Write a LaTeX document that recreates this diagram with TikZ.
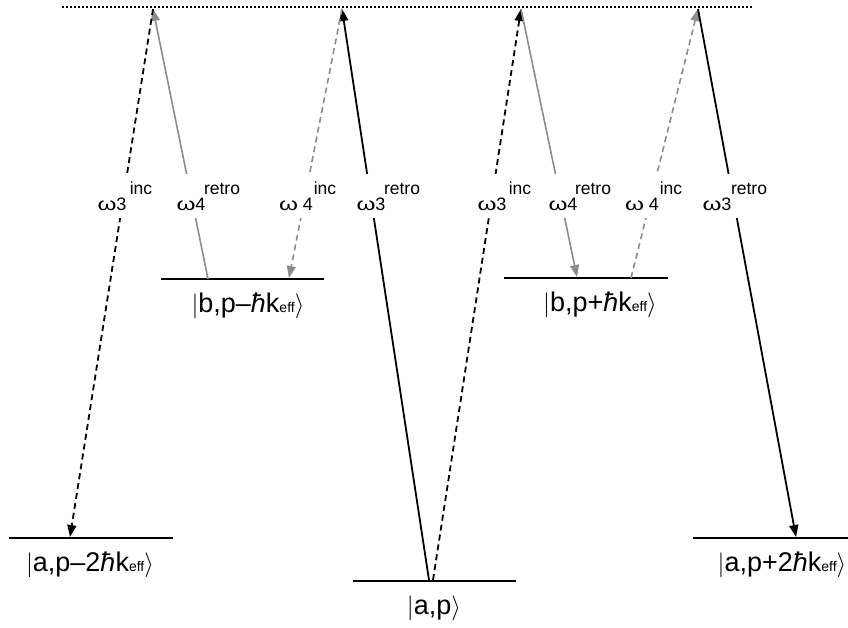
\documentclass[tikz,border=0pt]{standalone}
\usepackage{fontspec}
\usepackage{graphicx}
\setmainfont{Liberation Sans}
\usetikzlibrary{arrows.meta}
\newcommand{\myket}[1]{$\left|\vphantom{\rule[-7pt]{0pt}{26pt}}\mbox{#1}\right\rangle$}
\newcommand{\effsub}{{\fontsize{14}{14}\selectfont eff}}
\newcommand{\hb}{{\itshape ħ}}
\newcommand{\om}{\scalebox{1.35}[1]{ω}}
\begin{document}
\begin{tikzpicture}[x=1pt,y=-1pt,
  levelline/.style={line width=2.4pt, black},
  blk/.style={line width=1.8pt, black, -{Triangle[length=12pt,width=9pt]}},
  gry/.style={line width=1.6pt, gray!90, -{Triangle[length=12pt,width=9pt]}},
  dsh/.style={dash pattern=on 6pt off 4pt},
  ketlab/.style={font=\fontsize{27}{27}\selectfont, inner sep=0pt, anchor=base},
  omg/.style={font=\fontsize{18}{18}\selectfont, inner sep=0pt, anchor=base},
  suplab/.style={font=\fontsize{17.5}{17.5}\selectfont, inner sep=0pt, anchor=base}]
\useasboundingbox (0,0) rectangle (848,627);
% virtual level
\draw[line width=1.8pt, dash pattern=on 1.8pt off 2.2pt] (62,7) -- (753,7);
% levels
\draw[levelline] (9,538) -- (173,538);
\draw[levelline] (353,581) -- (516,581);
\draw[levelline] (693,538) -- (848,538);
\draw[levelline] (161,279) -- (324,279);
\draw[levelline] (504,278) -- (668,278);
% peaks
\coordinate (pA) at (153,9);
\coordinate (pB) at (342,9);
\coordinate (pC) at (521,9);
\coordinate (pD) at (698,9);
% end points on levels
\coordinate (am2) at (70,537);
\coordinate (bm1a) at (208,279);
\coordinate (bm1b) at (289,278);
\coordinate (a0a) at (429,580);
\coordinate (a0b) at (433,580);
\coordinate (bp1a) at (577,277);
\coordinate (bp1b) at (631,278);
\coordinate (ap2) at (796,537);
% transitions
\draw[gry] (bm1a) -- (pA);
\draw[blk, dsh] (pA) -- (am2);
\draw[blk] (a0a) -- (pB);
\draw[gry, dsh] (pB) -- (bm1b);
\draw[blk, dsh] (a0b) -- (pC);
\draw[gry] (pC) -- (bp1a);
\draw[gry, dsh] (bp1b) -- (pD);
\draw[blk] (pD) -- (ap2);
% gap for labels
\fill[white] (0,174) rectangle (848,218);
% labels
\node[omg] (w1) at (112,210) {\om3};
\node[suplab] (s1) at (141,194) {inc};
\node[omg] (w2) at (191,210) {\om4};
\node[suplab] (s2) at (222,194) {retro};
\node[omg] (w3) at (296,210) {\om\ 4};
\node[suplab] (s3) at (325,194) {inc};
\node[omg] (w4) at (371,210) {\om3};
\node[suplab] (s4) at (402,194) {retro};
\node[omg] (w5) at (492,210) {\om3};
\node[suplab] (s5) at (520,194) {inc};
\node[omg] (w6) at (563,210) {\om4};
\node[suplab] (s6) at (593,194) {retro};
\node[omg] (w7) at (642,210) {\om\ 4};
\node[suplab] (s7) at (671,194) {inc};
\node[omg] (w8) at (717,210) {\om3};
\node[suplab] (s8) at (749,194) {retro};
% kets
\node[ketlab] (k1) at (90,571) {\myket{a,p–2\hb k\effsub}};
\node[ketlab] (k2) at (434,614) {\myket{a,p}};
\node[ketlab] (k3) at (248,312) {\myket{b,p–\hb k\effsub}};
\node[ketlab] (k4) at (600,311) {\myket{b,p+\hb k\effsub}};
\node[ketlab] (k5) at (782,571) {\myket{a,p+2\hb k\effsub}};
\end{tikzpicture}
\end{document}
